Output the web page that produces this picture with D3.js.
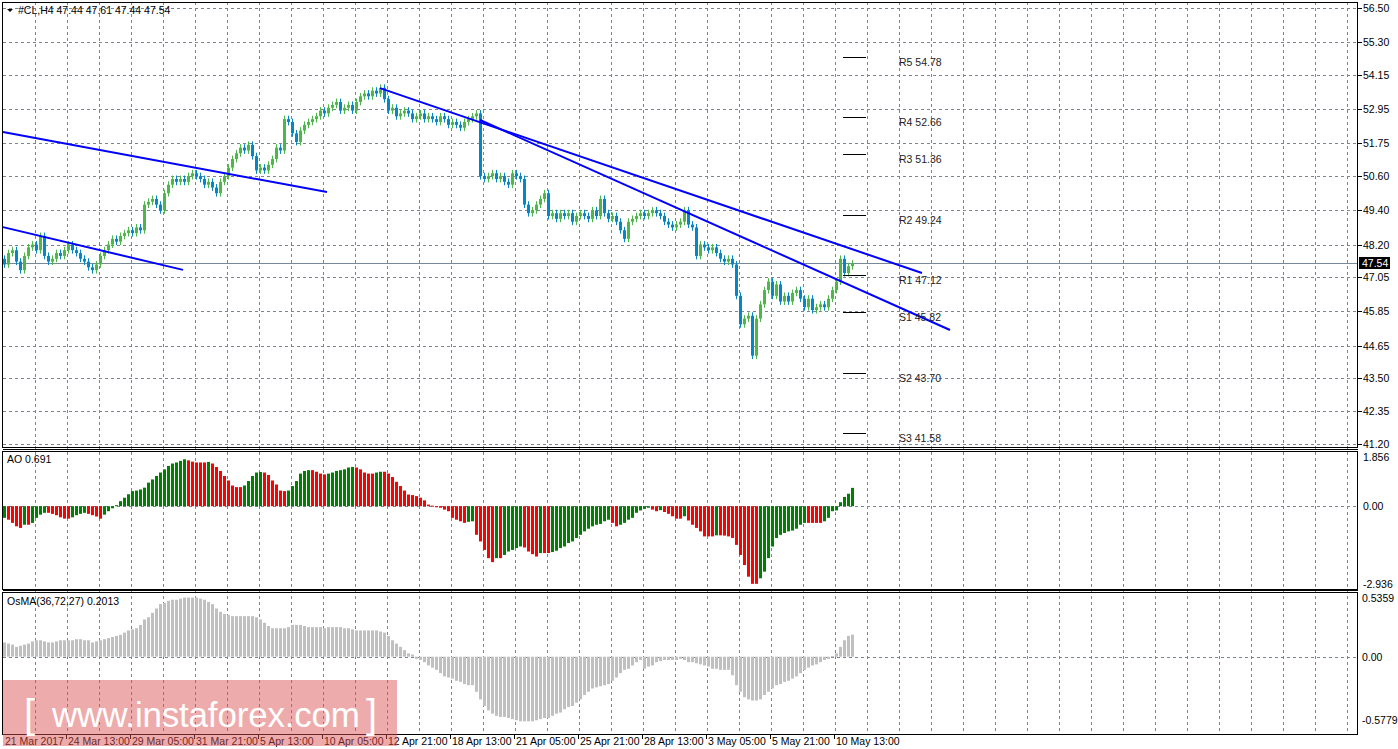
<!DOCTYPE html>
<html><head><meta charset="utf-8">
<script src="https://cdn.jsdelivr.net/npm/d3@7"></script>
<style>body{margin:0;background:#fff}svg text{font-family:"Liberation Sans",Arial,sans-serif;font-size:10.5px}</style>
</head><body><svg id="c" width="1398" height="749"></svg>
<script>
const closes = [
47.5,47.9,48.0,47.6,47.3,47.8,48.1,48.2,48.0,48.5,47.8,47.6,47.7,47.9,47.8,48.0,
48.2,48.0,47.9,47.7,47.6,47.4,47.3,47.5,47.8,48.0,48.2,48.4,48.3,48.5,48.6,48.7,
48.6,48.8,48.7,49.6,49.7,49.8,49.6,49.4,50.0,50.3,50.5,50.4,50.5,50.4,50.6,50.7,
50.6,50.5,50.3,50.4,50.2,50.0,50.4,50.6,50.9,51.2,51.4,51.6,51.5,51.7,51.3,50.8,
50.9,50.8,51.0,51.2,51.6,51.5,52.6,52.5,52.1,51.8,52.2,52.4,52.5,52.6,52.7,52.9,
52.8,53.0,53.1,53.2,52.9,53.0,53.1,52.9,53.2,53.4,53.5,53.4,53.6,53.5,53.7,53.3,
52.9,53.0,52.7,52.8,52.9,52.8,52.6,52.7,52.8,52.6,52.7,52.6,52.5,52.7,52.6,52.4,
52.5,52.4,52.3,52.5,52.6,52.7,52.8,50.6,50.5,50.6,50.7,50.5,50.6,50.4,50.3,50.7,
50.6,50.5,49.6,49.3,49.4,49.6,49.8,50.0,49.2,49.3,49.1,49.3,49.2,49.3,49.0,49.2,
49.3,49.2,49.1,49.4,49.2,49.8,49.3,49.1,49.2,49.0,48.7,48.4,49.0,49.1,49.2,49.3,
49.2,49.3,49.4,49.3,49.2,49.0,48.9,48.8,48.9,49.0,49.4,48.9,48.8,47.8,48.2,48.1,
48.0,48.1,47.9,47.7,47.6,47.7,47.5,46.4,45.4,45.6,45.7,44.3,45.6,46.1,46.6,46.9,
46.4,46.8,46.2,46.4,46.2,46.5,46.6,46.3,46.0,46.3,45.9,46.0,46.1,46.0,46.3,46.6,
46.9,47.7,47.2,47.44,47.54];
const firstOpen = 47.7;
const wicks = [0.12];
const aoValues = [
-0.44,-0.51,-0.63,-0.76,-0.82,-0.70,-0.70,-0.63,-0.44,-0.32,-0.25,-0.25,-0.29,-0.34,-0.42,-0.47,
-0.47,-0.42,-0.34,-0.29,-0.25,-0.29,-0.34,-0.39,-0.47,-0.32,-0.19,-0.08,0.04,0.19,0.32,0.45,
0.57,0.59,0.63,0.70,0.89,1.01,1.14,1.27,1.39,1.52,1.61,1.65,1.71,1.77,1.73,1.68,
1.65,1.65,1.65,1.67,1.61,1.48,1.33,1.14,0.97,0.78,0.72,0.72,0.78,0.95,1.14,1.27,
1.29,1.27,1.18,0.97,0.82,0.59,0.57,0.59,0.76,0.95,1.23,1.33,1.36,1.36,1.30,1.23,
1.20,1.23,1.27,1.33,1.36,1.39,1.46,1.48,1.46,1.39,1.27,1.23,1.23,1.27,1.30,1.30,
1.23,1.10,0.92,0.76,0.59,0.44,0.42,0.38,0.32,0.22,0.06,0.02,-0.04,-0.06,-0.13,-0.19,
-0.44,-0.51,-0.57,-0.63,-0.59,-0.57,-1.08,-1.33,-1.65,-1.96,-2.11,-1.96,-1.96,-1.84,-1.71,-1.65,
-1.58,-1.52,-1.56,-1.71,-1.81,-1.90,-1.77,-1.77,-1.77,-1.73,-1.68,-1.58,-1.52,-1.39,-1.33,-1.20,
-1.08,-0.95,-0.85,-0.76,-0.70,-0.67,-0.57,-0.51,-0.63,-0.76,-0.70,-0.63,-0.51,-0.44,-0.25,-0.16,
-0.10,-0.06,-0.13,-0.19,-0.15,-0.22,-0.29,-0.38,-0.47,-0.47,-0.38,-0.54,-0.70,-0.82,-0.95,-1.14,
-1.14,-1.14,-1.10,-1.10,-1.11,-1.14,-1.20,-1.46,-1.84,-2.22,-2.66,-2.93,-2.93,-2.72,-2.47,-1.96,
-1.52,-1.20,-1.08,-1.01,-0.95,-0.92,-0.85,-0.70,-0.63,-0.63,-0.63,-0.63,-0.63,-0.57,-0.44,-0.19,
-0.16,0.15,0.35,0.47,0.691];
const osmaValues = [
0.13,0.12,0.11,0.09,0.10,0.11,0.12,0.14,0.15,0.15,0.14,0.13,0.13,0.14,0.15,0.15,
0.15,0.15,0.16,0.16,0.15,0.15,0.13,0.14,0.15,0.16,0.17,0.18,0.19,0.20,0.22,0.24,
0.25,0.26,0.29,0.34,0.36,0.40,0.44,0.48,0.49,0.51,0.52,0.52,0.53,0.54,0.54,0.54,
0.54,0.53,0.52,0.50,0.48,0.44,0.41,0.39,0.38,0.37,0.37,0.37,0.37,0.37,0.37,0.36,
0.34,0.31,0.28,0.26,0.26,0.26,0.26,0.27,0.29,0.29,0.29,0.28,0.27,0.27,0.27,0.27,
0.26,0.27,0.27,0.27,0.27,0.26,0.26,0.25,0.24,0.24,0.24,0.24,0.24,0.24,0.23,0.22,
0.19,0.15,0.12,0.09,0.06,0.03,0.02,-0.02,-0.03,-0.05,-0.08,-0.10,-0.12,-0.15,-0.18,-0.19,
-0.20,-0.22,-0.23,-0.25,-0.26,-0.26,-0.32,-0.39,-0.45,-0.49,-0.52,-0.54,-0.55,-0.55,-0.56,-0.57,
-0.58,-0.59,-0.59,-0.59,-0.59,-0.58,-0.57,-0.56,-0.56,-0.54,-0.52,-0.51,-0.48,-0.46,-0.45,-0.42,
-0.39,-0.35,-0.32,-0.29,-0.28,-0.27,-0.26,-0.25,-0.22,-0.19,-0.15,-0.12,-0.11,-0.08,-0.05,-0.03,
-0.11,-0.09,-0.08,-0.05,-0.04,-0.03,-0.03,-0.03,-0.03,-0.02,-0.03,-0.05,-0.05,-0.06,-0.07,-0.08,
-0.09,-0.11,-0.11,-0.12,-0.12,-0.12,-0.17,-0.26,-0.32,-0.37,-0.39,-0.40,-0.40,-0.39,-0.35,-0.32,
-0.29,-0.26,-0.25,-0.23,-0.22,-0.20,-0.18,-0.15,-0.12,-0.10,-0.08,-0.07,-0.05,-0.03,-0.02,0.005,
0.03,0.09,0.15,0.19,0.2013];
const priceTicks = [56.50,55.30,54.15,52.95,51.75,50.60,49.40,48.20,47.05,45.85,44.65,43.50,42.35,41.20];
const aoTicks = [1.856,0.00,-2.936];
const osmaTicks = [0.5359,0.00,-0.5779];
const dateLabels = ["21 Mar 2017","24 Mar 13:00","29 Mar 05:00","31 Mar 21:00","5 Apr 13:00","10 Apr 05:00","12 Apr 21:00","18 Apr 13:00","21 Apr 05:00","25 Apr 21:00","28 Apr 13:00","3 May 05:00","5 May 21:00","10 May 13:00"];
const trendLines = [[-0.25,52.15,80.75,50.04],[-0.25,48.81,44.75,47.31],[94,53.69,229.5,47.2],[119,52.57,236.5,45.2]];
const pivotNames = ["R5","R4","R3","R2","R1","S1","S2","S3"];
const pivotValues = [54.78,52.66,51.36,49.24,47.12,45.82,43.70,41.58];
const lastPrice = 47.54;

const svg = d3.select("#c");
const L=3, R=1358;
const x = d3.scaleLinear().domain([0,1]).range([4,8]);
const yP = d3.scaleLinear().domain([41.2,56.5]).range([444,8]);
const yA = d3.scaleLinear().domain([-2.936,1.856]).range([584,457]);
const yO = d3.scaleLinear().domain([-0.5779,0.5359]).range([720,598]);
const panels = [[2,447],[451,589],[592,734]];

const grid = svg.append("g").attr("stroke","#7a8592").attr("stroke-dasharray","3,3").attr("stroke-width",1);
for(let i=8;x(i)<R;i+=8){ grid.append("line").attr("x1",x(i)-0.5).attr("x2",x(i)-0.5).attr("y1",2).attr("y2",734);}
priceTicks.forEach(t=>grid.append("line").attr("x1",L).attr("x2",R).attr("y1",Math.round(yP(t))+0.5).attr("y2",Math.round(yP(t))+0.5));
[[yA,0],[yO,0]].forEach(([s,v])=>grid.append("line").attr("x1",L).attr("x2",R).attr("y1",Math.round(s(v))+0.5).attr("y2",Math.round(s(v))+0.5));

svg.append("line").attr("x1",L).attr("x2",R).attr("y1",Math.round(yP(lastPrice))+0.5).attr("y2",Math.round(yP(lastPrice))+0.5).attr("stroke","#778899");

const cg = svg.append("g");
closes.forEach((c,i)=>{
  const o = i===0?firstOpen:closes[i-1];
  const up = c>=o; const col = up?"#4db849":"#0586c8";
  const hi=Math.max(o,c)+wicks[0], lo=Math.min(o,c)-wicks[0];
  const cx = Math.round(x(i));
  cg.append("line").attr("x1",cx+0.5).attr("x2",cx+0.5).attr("y1",yP(hi)).attr("y2",yP(lo)).attr("stroke",col);
  const y1=yP(Math.max(o,c)), y2=yP(Math.min(o,c));
  cg.append("rect").attr("x",cx-1).attr("width",3).attr("y",y1).attr("height",Math.max(1,y2-y1)).attr("fill",col);
});

trendLines.forEach(t=>svg.append("line").attr("x1",x(t[0])).attr("y1",yP(t[1])).attr("x2",x(t[2])).attr("y2",yP(t[3])).attr("stroke","#0000ff").attr("stroke-width",2));

pivotValues.forEach((v,k)=>{
  svg.append("line").attr("x1",843).attr("x2",866).attr("y1",Math.round(yP(v))+0.5).attr("y2",Math.round(yP(v))+0.5).attr("stroke","#000");
  svg.append("text").attr("x",899).attr("y",yP(v)+9).attr("fill","#222").text(pivotNames[k]+" "+v.toFixed(2));
});

aoValues.forEach((v,i)=>{
  const col = (i===0||v>aoValues[i-1])?"#008000":"#ff0000";
  svg.append("rect").attr("x",Math.round(x(i))-1).attr("width",3).attr("y",Math.min(yA(v),yA(0))).attr("height",Math.max(1,Math.abs(yA(v)-yA(0)))).attr("fill",col);
});
osmaValues.forEach((v,i)=>{
  svg.append("rect").attr("x",Math.round(x(i))-1).attr("width",3).attr("y",Math.min(yO(v),yO(0))).attr("height",Math.max(1,Math.abs(yO(v)-yO(0)))).attr("fill","#c0c0c0");
});

panels.forEach(([a,b])=>svg.append("rect").attr("x",L-0.5).attr("y",a+0.5).attr("width",R-L).attr("height",b-a).attr("fill","none").attr("stroke","#000"));
[449,590].forEach(yy=>svg.append("line").attr("x1",L).attr("x2",R).attr("y1",yy+0.5).attr("y2",yy+0.5).attr("stroke","#000"));

const ax = svg.append("g");
priceTicks.forEach(t=>{const yy=Math.round(yP(t));
  ax.append("line").attr("x1",R).attr("x2",R+4).attr("y1",yy+0.5).attr("y2",yy+0.5).attr("stroke","#000");
  ax.append("text").attr("x",R+5).attr("y",yy+4).text(t.toFixed(2));});
aoTicks.forEach(t=>{const yy=Math.round(yA(t));ax.append("text").attr("x",R+5).attr("y",yy+4).text(t===0?"0.00":t.toFixed(3));});
osmaTicks.forEach(t=>{const yy=Math.round(yO(t));ax.append("text").attr("x",R+4).attr("y",yy+4).text(t===0?"0.00":t.toFixed(4));});
const ly = Math.round(yP(lastPrice));
ax.append("rect").attr("x",R+1).attr("y",ly-6).attr("width",31).attr("height",12).attr("fill","#000");
ax.append("text").attr("x",R+4).attr("y",ly+4).attr("fill","#fff").text(lastPrice.toFixed(2));

dateLabels.forEach((d,k)=>{const xx = k===0?3:x(16*k)-2;
  if(k>0) svg.append("line").attr("x1",xx+0.5).attr("x2",xx+0.5).attr("y1",734).attr("y2",739).attr("stroke","#000");
  svg.append("text").attr("x",xx+2).attr("y",745).text(d);});

svg.append("path").attr("d","M7,9 L13,9 L10,12 Z").attr("fill","#000");
svg.append("text").attr("x",18).attr("y",14).text("#CL,H4  47.44 47.61 47.44 47.54");
svg.append("text").attr("x",7).attr("y",463).text("AO 0.691");
svg.append("text").attr("x",7).attr("y",605).text("OsMA(36,72,27) 0.2013");

svg.append("rect").attr("x",3).attr("y",680).attr("width",394).attr("height",66).attr("fill","rgba(220,80,80,0.48)");
const wm = svg.append("g").attr("fill","#fff").style("font-family","'Open Sans', Roboto, sans-serif").style("font-weight","300");
wm.append("text").attr("x",24).attr("y",728).style("font-size","40px").text("[");
wm.append("text").attr("x",52).attr("y",727).style("font-size","35px").attr("textLength",308).text("www.instaforex.com");
wm.append("text").attr("x",366).attr("y",728).style("font-size","40px").text("]");
</script></body></html>
